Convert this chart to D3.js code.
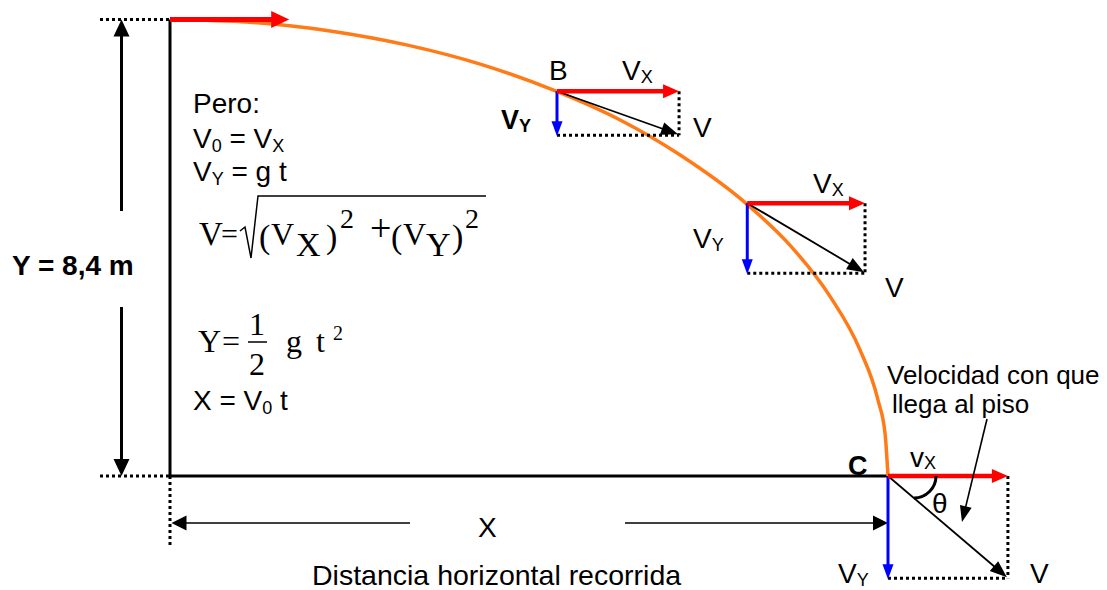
<!DOCTYPE html>
<html>
<head>
<meta charset="utf-8">
<script src="https://cdn.jsdelivr.net/npm/d3@7"></script>
<style>
  body { margin: 0; background: #fff; }
  svg { display: block; }
</style>
</head>
<body>
<svg id="chart"></svg>
<script>
// trajectory: x as a fraction of X, y in metres
var pathX = [0, 0.111, 0.223, 0.334, 0.432, 0.536, 0.627, 0.710, 0.801, 0.864, 0.919, 0.961, 0.986, 0.996, 1];
var pathY = [8.4, 8.35, 8.19, 7.92, 7.58, 7.09, 6.55, 5.91, 5.03, 4.24, 3.31, 2.32, 1.40, 0.77, 0];
var heightM = 8.4;

// points where the velocity is drawn (start, B, middle, C)
var markX = [0, 0.539, 0.804, 1];
var markY = [8.4, 7.08, 5.02, 0];
var vxLen = [0.166, 0.170, 0.164, 0.167];   // fraction of X
var vyLen = [0, 0.81, 1.29, 1.88];          // metres

var width = 1107, height = 590;
var sans = "'Liberation Sans', Arial, sans-serif";
var serif = "'Liberation Serif', 'Times New Roman', serif";

var svg = d3.select('#chart').attr('width', width).attr('height', height)
svg.append('rect').attr('width', width).attr('height', height).attr('fill', '#fff')

var x = d3.scaleLinear().domain([0, 1]).range([170, 888])
var y = d3.scaleLinear().domain([0, heightM]).range([476, 19.5])

function arrow(g, x1, y1, x2, y2, color, sw, head, hw) {
  var dx = x2 - x1, dy = y2 - y1, len = Math.hypot(dx, dy)
  var ux = dx / len, uy = dy / len
  var bx = x2 - ux * head, by = y2 - uy * head
  g.append('line')
    .attr('x1', x1).attr('y1', y1)
    .attr('x2', bx + ux * 2).attr('y2', by + uy * 2)
    .attr('stroke', color).attr('stroke-width', sw)
  g.append('polygon')
    .attr('points', [[x2, y2], [bx - uy * hw, by + ux * hw], [bx + uy * hw, by - ux * hw]].join(' '))
    .attr('fill', color)
}

function dotted(g, x1, y1, x2, y2) {
  g.append('line')
    .attr('x1', x1).attr('y1', y1).attr('x2', x2).attr('y2', y2)
    .attr('stroke', '#000').attr('stroke-width', 3)
    .attr('stroke-dasharray', '3,3')
}

// text with sub/superscripts: parts = [[text, size, dy]]
function label(g, px, py, parts, font, weight) {
  var t = g.append('text').attr('x', px).attr('y', py)
    .attr('font-family', font || sans).attr('font-weight', weight || 'normal')
  var shift = 0
  parts.forEach(function (p) {
    t.append('tspan').attr('font-size', p[1]).attr('dy', p[2] - shift).text(p[0])
    shift = p[2]
  })
  return t
}

var frame = svg.append('g')

// guide lines
dotted(frame, 100, y(heightM), x(0), y(heightM))
dotted(frame, 100, y(0), x(0), y(0))
dotted(frame, x(0), y(0), x(0), 545)

// wall and floor
frame.append('line').attr('x1', x(0)).attr('y1', y(heightM)).attr('x2', x(0)).attr('y2', y(0))
  .attr('stroke', '#000').attr('stroke-width', 3)
frame.append('line').attr('x1', x(0)).attr('y1', y(0)).attr('x2', x(1)).attr('y2', y(0))
  .attr('stroke', '#000').attr('stroke-width', 3)

// height dimension
var dimX = x(0) - 48.5
arrow(frame, dimX, 211, dimX, y(heightM), '#000', 3, 17, 8)
arrow(frame, dimX, 307, dimX, y(0), '#000', 3, 17, 8)
label(frame, 12, 275, [['Y = 8,4 m', 28, 0]], sans, 'bold')

// horizontal dimension
arrow(frame, 410, 523, x(0) + 1.5, 523, '#000', 1.6, 15, 7.5)
arrow(frame, 625, 523, x(1), 523, '#000', 1.6, 15, 7.5)
label(frame, 478, 537, [['X', 28, 0]])
label(frame, 312, 585, [['Distancia horizontal recorrida', 28.5, 0]])

// trajectory
var pts = pathX.map(function (d, i) { return [d, pathY[i]] })
svg.append('path')
  .attr('d', d3.line().x(function (d) { return x(d[0]) }).y(function (d) { return y(d[1]) })
    .curve(d3.curveMonotoneX)(pts))
  .attr('fill', 'none').attr('stroke', '#ff7b17').attr('stroke-width', 3.5)

// velocity vectors
var vec = svg.append('g')
markX.forEach(function (mx, i) {
  var x0 = x(mx), y0 = y(markY[i])
  var x1 = x(mx + vxLen[i]), y1 = y(markY[i] - vyLen[i])
  if (vyLen[i] > 0) {
    dotted(vec, x1, y0, x1, y1)
    dotted(vec, x0, y1, x1, y1)
    arrow(vec, x0, y0, x0, y1 + 1, '#0000ff', 3, 15, 5.5)
    arrow(vec, x0, y0, x1 - 1, y1 - 1, '#000', 1.8, 17, 6.5)
  }
  arrow(vec, x0, y0, x1, y0, '#ff0000', i === 0 ? 5 : 4.5, i === 0 ? 18 : 16, i === 0 ? 8.5 : 7)
})

// angle at C
var cx = x(1) + 26, cy = y(0)
svg.append('path')
  .attr('d', 'M' + (cx + 22) + ',' + cy + ' A22,22 0 0,1 ' + cx + ',' + (cy + 22))
  .attr('fill', 'none').attr('stroke', '#000').attr('stroke-width', 3)
label(svg, 932, 513, [['θ', 28, 0]])

// labels at the points
var sub = 18
label(svg, 549, 80, [['B', 28, 0]])
label(svg, 622, 80, [['V', 28, 0], ['X', sub, 3]])
label(svg, 501, 129, [['V', 27, 0], ['Y', 18, 3]], sans, 'bold')
label(svg, 693, 137, [['V', 28, 0]])

label(svg, 813, 193, [['V', 28, 0], ['X', sub, 3]])
label(svg, 693, 248, [['V', 28, 0], ['Y', sub, 3]])
label(svg, 885, 297, [['V', 28, 0]])

label(svg, 848, 475, [['C', 27, 0]], sans, 'bold')
label(svg, 910, 467, [['v', 28, 0], ['X', sub, 2]])
label(svg, 838, 583, [['V', 28, 0], ['Y', sub, 3]])
label(svg, 1030, 583, [['V', 28, 0]])

label(svg, 887, 384, [['Velocidad con que', 26, 0]])
label(svg, 892, 413, [['llega al piso', 26, 0]])
arrow(svg, 987, 419, 962, 522, '#000', 1.6, 16, 6)

// equations
var eq = svg.append('g')
label(eq, 193, 113, [['Pero:', 28, 0]])
label(eq, 193, 148, [['V', 28, 0], ['0', sub, 4], [' = V', 28, 0], ['X', sub, 4]])
label(eq, 193, 181, [['V', 28, 0], ['Y', sub, 4], [' = g t', 28, 0]])
label(eq, 193, 410, [['X = V', 28, 0], ['0', sub, 4], [' t', 28, 0]])

// V = sqrt((VX)^2 + (VY)^2)
var sq = [['V', 199, 245, 33], ['=', 221, 244, 30], ['(', 259, 248, 34], ['V', 271, 245, 32],
          ['X', 296, 256, 34], [')', 326, 248, 34], ['2', 340, 228, 28], ['+', 370, 241, 38],
          ['(', 391, 248, 34], ['V', 403, 245, 32], ['Y', 426, 256, 34], [')', 452, 248, 34],
          ['2', 465, 228, 28]]
sq.forEach(function (s) {
  eq.append('text').attr('x', s[1]).attr('y', s[2]).attr('font-family', serif)
    .attr('font-size', s[3]).text(s[0])
})
eq.append('path').attr('d', 'M240,231 L245,227 L251,258 L258,196 L486,196')
  .attr('fill', 'none').attr('stroke', '#000').attr('stroke-width', 1.5)

// Y = 1/2 g t^2
var fr = [['Y', 198, 352, 32, 'start'], ['=', 222, 352, 32, 'start'], ['1', 257, 335, 32, 'middle'],
          ['2', 257, 375, 32, 'middle'], ['g', 286, 352, 32, 'start'], ['t', 316, 352, 32, 'start'],
          ['2', 333, 340, 20, 'start']]
fr.forEach(function (s) {
  eq.append('text').attr('x', s[1]).attr('y', s[2]).attr('font-family', serif)
    .attr('font-size', s[3]).attr('text-anchor', s[4]).text(s[0])
})
eq.append('line').attr('x1', 248).attr('y1', 342).attr('x2', 267).attr('y2', 342)
  .attr('stroke', '#000').attr('stroke-width', 1.5)
</script>
</body>
</html>
